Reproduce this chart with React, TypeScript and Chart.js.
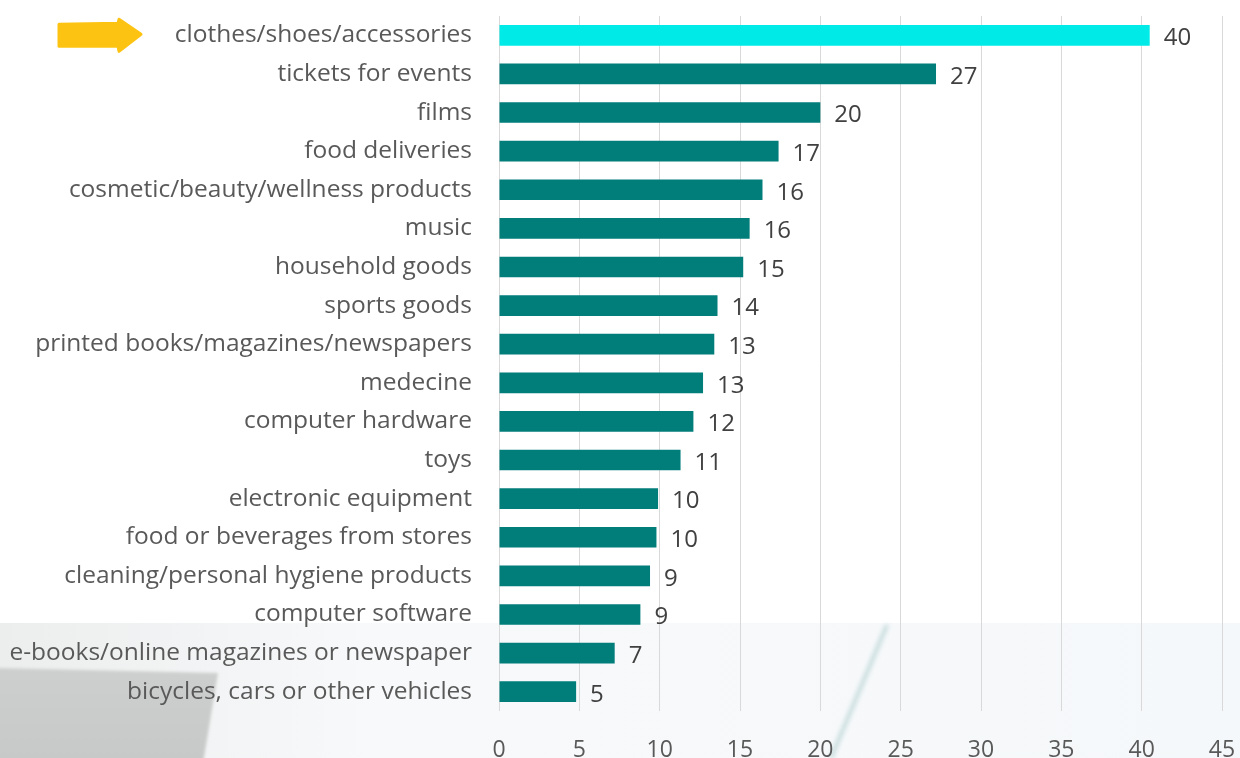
import React, { useEffect, useRef } from "react";
import { Chart, registerables } from "chart.js";

Chart.register(...registerables);

const categories = [
  "clothes/shoes/accessories",
  "tickets for events",
  "films",
  "food deliveries",
  "cosmetic/beauty/wellness products",
  "music",
  "household goods",
  "sports goods",
  "printed books/magazines/newspapers",
  "medecine",
  "computer hardware",
  "toys",
  "electronic equipment",
  "food or beverages from stores",
  "cleaning/personal hygiene products",
  "computer software",
  "e-books/online magazines or newspaper",
  "bicycles, cars or other vehicles",
];

const values = [40.5, 27.2, 20.0, 17.4, 16.4, 15.6, 15.2, 13.6, 13.4, 12.7, 12.1, 11.3, 9.9, 9.8, 9.4, 8.8, 7.2, 4.8];

const valueLabels = ["40", "27", "20", "17", "16", "16", "15", "14", "13", "13", "12", "11", "10", "10", "9", "9", "7", "5"];

const xTicks = [0, 5, 10, 15, 20, 25, 30, 35, 40, 45];

const HIGHLIGHT = "#00ebe7";
const TEAL = "#017d7a";
const FONT = "'Open Sans', Lato, sans-serif";

const backgroundPlugin = {
  id: "bgPhoto",
  beforeDraw(chart: any) {
    const { ctx, width, height } = chart;
    ctx.save();
    ctx.fillStyle = "#ffffff";
    ctx.fillRect(0, 0, width, height);
    const top = 623;
    const g = ctx.createLinearGradient(0, 0, width, 0);
    g.addColorStop(0, "#eceeee");
    g.addColorStop(0.3, "#f8f9fa");
    g.addColorStop(1, "#f5f8fa");
    ctx.fillStyle = g;
    ctx.fillRect(0, top, width, height - top);
    // gray shape bottom-left
    ctx.filter = "blur(1.5px)";
    const g2 = ctx.createLinearGradient(0, 668, 0, 758);
    g2.addColorStop(0, "#cdcece");
    g2.addColorStop(1, "#c7c9c9");
    ctx.fillStyle = g2;
    ctx.beginPath();
    ctx.moveTo(-5, 668);
    ctx.lineTo(218, 673);
    ctx.lineTo(203, height + 5);
    ctx.lineTo(-5, height + 5);
    ctx.closePath();
    ctx.fill();
    // faint diagonal line
    ctx.filter = "blur(2px)";
    ctx.strokeStyle = "rgba(110,165,165,0.35)";
    ctx.lineWidth = 4;
    ctx.beginPath();
    ctx.moveTo(887, top + 2);
    ctx.lineTo(831, height);
    ctx.stroke();
    ctx.filter = "none";
    ctx.restore();
  },
};

const labelsPlugin = {
  id: "valueLabels",
  afterDatasetsDraw(chart: any) {
    const { ctx } = chart;
    const meta = chart.getDatasetMeta(0);
    ctx.save();
    ctx.font = `24px ${FONT}`;
    ctx.fillStyle = "#404040";
    ctx.textAlign = "left";
    ctx.textBaseline = "middle";
    meta.data.forEach((bar: any, i: number) => {
      ctx.fillText(valueLabels[i], bar.x + 14, bar.y + 3);
    });
    ctx.restore();
  },
};

const arrowPlugin = {
  id: "arrow",
  afterDraw(chart: any) {
    const { ctx } = chart;
    const yScale = chart.scales.y;
    const cy = yScale.getPixelForValue(0);
    ctx.save();
    ctx.fillStyle = "#fdc312";
    ctx.strokeStyle = "#fdc312";
    ctx.lineJoin = "round";
    ctx.lineWidth = 3;
    ctx.beginPath();
    ctx.moveTo(59, cy - 11);
    ctx.lineTo(118, cy - 12);
    ctx.lineTo(119, cy - 16);
    ctx.lineTo(141, cy - 1);
    ctx.lineTo(119, cy + 16);
    ctx.lineTo(118, cy + 11);
    ctx.lineTo(59, cy + 11);
    ctx.closePath();
    ctx.fill();
    ctx.stroke();
    ctx.restore();
  },
};

export default function App() {
  const ref = useRef<HTMLCanvasElement | null>(null);
  useEffect(() => {
    document.body.style.margin = "0";
    const canvas = ref.current;
    if (!canvas) return;
    const chart = new Chart(canvas, {
      type: "bar",
      data: {
        labels: categories,
        datasets: [
          {
            data: values,
            backgroundColor: values.map((_, i) => (i === 0 ? HIGHLIGHT : TEAL)),
            borderWidth: 0,
            barPercentage: 0.535,
            categoryPercentage: 1,
          },
        ],
      },
      options: {
        indexAxis: "y",
        animation: false,
        responsive: false,
        maintainAspectRatio: false,
        layout: { padding: { top: 16, right: 18, bottom: 0, left: 0 } },
        plugins: {
          legend: { display: false },
          tooltip: { enabled: false },
        },
        scales: {
          x: {
            min: 0,
            max: 45,
            afterBuildTicks(scale: any) {
              scale.ticks = xTicks.map((v) => ({ value: v }));
            },
            afterFit(scale: any) {
              scale.height = 47;
            },
            grid: {
              color: "#d9d9d9",
              lineWidth: 1,
              drawTicks: true,
              tickLength: 26,
              tickColor: "rgba(0,0,0,0)",
            },
            border: { display: false },
            ticks: {
              color: "#595959",
              font: { family: FONT, size: 23 },
              padding: 0,
            },
          },
          y: {
            grid: { display: false, drawTicks: true, tickLength: 27 },
            border: { display: false },
            afterFit(scale: any) {
              scale.width = 499;
            },
            ticks: {
              color: "#595959",
              font: { family: FONT, size: 24.5 },
              padding: 0,
              autoSkip: false,
            },
          },
        },
      },
      plugins: [backgroundPlugin, labelsPlugin, arrowPlugin],
    });
    return () => chart.destroy();
  }, []);
  return (
    <div style={{ position: "fixed", left: 0, top: 0, width: 1240, height: 758 }}>
      <canvas ref={ref} width={1240} height={758} style={{ display: "block" }} />
    </div>
  );
}
